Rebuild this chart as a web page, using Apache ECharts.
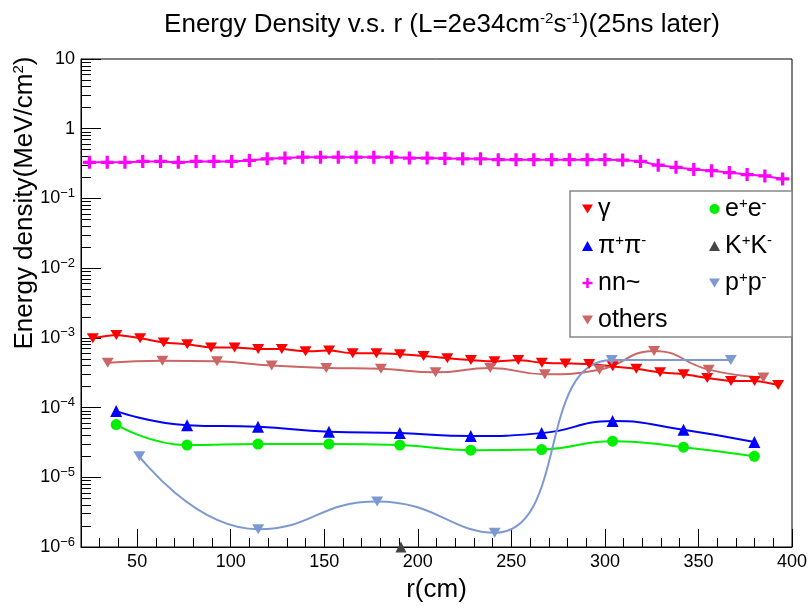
<!DOCTYPE html>
<html>
	<head>
		<meta charset="utf-8">
		<title>Energy Density</title>
	</head>
	<body style="margin:0">
		<div id="container" style="width: 811px;height:608px;"></div>
	</body>
	<script src="https://cdn.jsdelivr.net/npm/echarts@6/dist/echarts.min.js"></script>
	<script type="text/javascript">
		'use strict'
		// 数据 (r in cm, energy density in MeV/cm2)
		var rNn = [24.5, 34, 43.5, 53, 62.5, 72, 81.5, 91, 100.5, 110, 119.5, 129, 138.5, 148, 157.5, 167, 176.5, 186, 195.5, 205,
			214.5, 224, 233.5, 243, 252.5, 262, 271.5, 281, 290.5, 300, 309.5, 319, 328.5, 338, 347.5, 357, 366.5, 376, 385.5, 395];
		var nnValues = [0.33, 0.33, 0.33, 0.34, 0.34, 0.33, 0.34, 0.34, 0.34, 0.35, 0.37, 0.38, 0.39, 0.39, 0.39, 0.39, 0.39, 0.39, 0.38, 0.38,
			0.375, 0.37, 0.37, 0.36, 0.36, 0.36, 0.36, 0.36, 0.36, 0.36, 0.355, 0.34, 0.30, 0.28, 0.26, 0.25, 0.235, 0.22, 0.21, 0.19];

		var rGamma = [26.3, 38.9, 51.6, 64.2, 76.8, 89.5, 102.1, 114.7, 127.3, 140, 152.6, 165.2, 177.9, 190.5, 203.1,
			215.8, 228.4, 241, 253.7, 266.3, 278.9, 291.6, 304.2, 316.8, 329.5, 342.1, 354.7, 367.4, 380, 392.6];
		var gammaValues = [9.9e-4, 1.1e-3, 9.9e-4, 8.6e-4, 8.1e-4, 7.3e-4, 7.3e-4, 6.9e-4, 6.9e-4, 6.4e-4, 6.6e-4, 6.0e-4, 6.0e-4, 5.8e-4, 5.5e-4,
			5.1e-4, 4.8e-4, 4.6e-4, 4.8e-4, 4.4e-4, 4.3e-4, 4.2e-4, 3.9e-4, 3.6e-4, 3.2e-4, 3.0e-4, 2.65e-4, 2.4e-4, 2.4e-4, 2.1e-4];

		var rOthers = [34.3, 63.5, 92.7, 121.9, 151.1, 180.3, 209.5, 238.7, 267.9, 297.1, 326.3, 355.5, 384.7];
		var othersValues = [4.4e-4, 4.7e-4, 4.6e-4, 4.0e-4, 3.7e-4, 3.6e-4, 3.2e-4, 3.7e-4, 3.0e-4, 3.5e-4, 6.5e-4, 3.5e-4, 2.7e-4];

		var rPi = [38.8, 76.7, 114.6, 152.5, 190.4, 228.3, 266.2, 304.1, 342, 379.9];
		var piValues = [8.9e-5, 5.6e-5, 5.3e-5, 4.5e-5, 4.3e-5, 3.9e-5, 4.3e-5, 6.4e-5, 4.8e-5, 3.2e-5];
		var eeValues = [5.7e-5, 2.9e-5, 3.0e-5, 3.0e-5, 2.9e-5, 2.45e-5, 2.5e-5, 3.3e-5, 2.7e-5, 2.0e-5];

		var rPp = [51.2, 114.7, 178.3, 241.1, 303.6, 367.3];
		var ppValues = [2.0e-5, 1.8e-6, 4.5e-6, 1.6e-6, 4.8e-4, 4.8e-4];

		var rKk = [191];
		var kkValues = [1.0e-6];

		var FONT = 'Liberation Sans';
		var DOWN = 'path://M0,0L12,0L6,10Z';
		var PLUS = 'path://M4.5,0h3v4.5h4.5v3h-4.5v4.5h-3v-4.5h-4.5v-3h4.5z';

		function pairs(xs, ys) {
			return xs.map(function (x, i) { return [x, ys[i]]; });
		}

		var legendNames = {
			'γ': 'γ',
			'π+π-': 'π{sup|+}π{sup|-}',
			'nn~': 'nn~',
			'others': 'others',
			'e+e-': 'e{sup|+}e{sup|-}',
			'K+K-': 'K{sup|+}K{sup|-}',
			'p+p-': 'p{sup|+}p{sup|-}'
		};

		function makeSeries(name, data, color, symbol, size, smooth, width) {
			return {
				name: name,
				type: 'line',
				data: data,
				smooth: smooth,
				symbol: symbol,
				symbolSize: size,
				showAllSymbol: true,
				clip: true,
				lineStyle: { color: color, width: width },
				itemStyle: { color: color },
				emphasis: { disabled: true }
			};
		}

		var myCharts = echarts.init(document.getElementById('container'));
		var legendCommon = {
			orient: 'vertical',
			itemWidth: 11,
			itemHeight: 10,
			itemGap: 9,
			selectedMode: false,
			formatter: function (n) { return legendNames[n]; },
			textStyle: { fontFamily: FONT, fontSize: 25, color: '#000', lineHeight: 28,
				rich: { sup: { fontSize: 15, padding: [0, 0, 11, 0] } } }
		};
		var option = {
			animation: false,
			backgroundColor: '#fff',
			title: {
				text: 'Energy Density v.s. r (L=2e34cm{sup|-2}s{sup|-1})(25ns later)',
				left: 437,
				top: 6,
				textAlign: 'center',
				textStyle: { fontFamily: FONT, fontSize: 26, fontWeight: 'normal', color: '#000',
					rich: { sup: { fontSize: 15, padding: [0, 0, 12, 0] } } }
			},
			grid: {
				show: true,
				left: 81, top: 59, right: 19, bottom: 58,
				borderColor: '#000', borderWidth: 1
			},
			legend: [
				Object.assign({ left: 577, top: 190, data: [
					{ name: 'γ', icon: DOWN }, { name: 'π+π-', icon: 'triangle' },
					{ name: 'nn~', icon: PLUS }, { name: 'others', icon: DOWN }] }, legendCommon),
				Object.assign({ left: 704, top: 190, data: [
					{ name: 'e+e-', icon: 'circle' }, { name: 'K+K-', icon: 'triangle' },
					{ name: 'p+p-', icon: DOWN }] }, legendCommon)
			],
			graphic: [
				{ type: 'rect', z: 3, shape: { x: 570, y: 191, width: 222, height: 146 },
					style: { fill: '#fff', stroke: '#888', lineWidth: 1.5 } },
				{ type: 'text', x: 25, y: 203, rotation: Math.PI / 2,
					style: { text: 'Energy density(MeV/cm{sup|2})', fontFamily: FONT, fontSize: 26, fill: '#000',
						align: 'center', verticalAlign: 'middle', rich: { sup: { fontSize: 15, padding: [0, 0, 12, 0] } } } }
			],
			xAxis: {
				type: 'value',
				min: 20, max: 400,
				splitNumber: 8,
				name: 'r(cm)',
				nameLocation: 'middle',
				nameGap: 30,
				nameTextStyle: { fontFamily: FONT, fontSize: 26, color: '#000' },
				axisLine: { lineStyle: { color: '#000', width: 1 } },
				axisTick: { inside: true, length: 18, lineStyle: { color: '#000' } },
				minorTick: { show: true, splitNumber: 5, length: 9, lineStyle: { color: '#000' } },
				axisLabel: { fontFamily: FONT, fontSize: 18, color: '#000', margin: 6, showMinLabel: false },
				splitLine: { show: false }
			},
			yAxis: {
				type: 'log',
				logBase: 10,
				min: 1e-6, max: 10,
				axisLine: { lineStyle: { color: '#000', width: 1 } },
				axisTick: { inside: true, length: 20, lineStyle: { color: '#000' } },
				minorTick: { show: true, splitNumber: 9, length: 10, lineStyle: { color: '#000' } },
				axisLabel: {
					fontFamily: FONT, fontSize: 18, color: '#000', margin: 6,
					formatter: function (v) {
						var e = Math.round(Math.log10(v));
						if (e === 1) return '10';
						if (e === 0) return '1';
						return '10{sup|−' + (-e) + '}';
					},
					rich: { sup: { fontSize: 13, padding: [0, 0, 10, 0] } }
				},
				splitLine: { show: false }
			},
			series: [
				makeSeries('γ', pairs(rGamma, gammaValues), '#ff0000', DOWN, [12, 10], 0.2, 2),
				makeSeries('π+π-', pairs(rPi, piValues), '#0000ff', 'triangle', 12, true, 2),
				makeSeries('nn~', pairs(rNn, nnValues), '#ff00ff', PLUS, 13, false, 2),
				makeSeries('others', pairs(rOthers, othersValues), '#cc6666', DOWN, [12, 10], true, 2),
				makeSeries('e+e-', pairs(rPi, eeValues), '#00ee00', 'circle', 11, true, 2),
				makeSeries('K+K-', pairs(rKk, kkValues), '#444444', 'triangle', 11, false, 2),
				makeSeries('p+p-', pairs(rPp, ppValues), '#7d99d1', DOWN, [12, 10], true, 2)
			]
		};
		myCharts.setOption(option);
	</script>
</html>
